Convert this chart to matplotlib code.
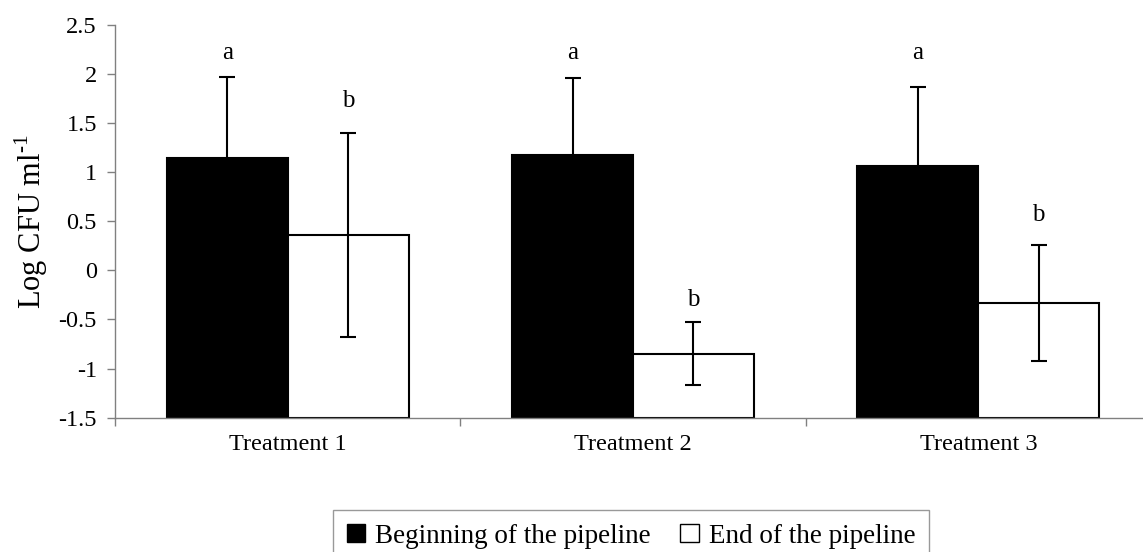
import matplotlib
matplotlib.use("Agg")
import matplotlib.pyplot as plt
import numpy as np
from matplotlib.patches import Patch

categories = ["Treatment 1", "Treatment 2", "Treatment 3"]
series_names = ["Beginning of the pipeline", "End of the pipeline"]
beginning = [1.14, 1.17, 1.06]
beginning_err = [0.83, 0.79, 0.81]
end = [0.36, -0.85, -0.33]
end_err = [1.04, 0.32, 0.59]
beginning_letters = ["a", "a", "a"]
end_letters = ["b", "b", "b"]
beginning_letter_y = [2.21, 2.21, 2.21]
end_letter_y = [1.72, -0.30, 0.56]
yticks = [-1.5, -1, -0.5, 0, 0.5, 1, 1.5, 2, 2.5]
ytick_labels = ["-1.5", "-1", "-0.5", "0", "0.5", "1", "1.5", "2", "2.5"]

plt.rcParams['font.family'] = ['Liberation Serif', 'DejaVu Serif']
plt.rcParams['mathtext.fontset'] = 'custom'
plt.rcParams['mathtext.rm'] = 'Liberation Serif'

fig = plt.figure(figsize=(11.43, 5.52), dpi=100)
ax = fig.add_axes([115/1143, 1 - 417.7/552, 1036/1143, (417.7 - 24.7)/552])

base = -1.5
w = 0.35
centers = np.arange(len(categories)) + 0.5
b_vals = np.array(beginning) - base
e_vals = np.array(end) - base
ax.bar(centers - w, b_vals, width=w, bottom=base, align='edge',
       color='black', edgecolor='black', linewidth=1.5, zorder=2)
ax.bar(centers, e_vals, width=w, bottom=base, align='edge',
       color='white', edgecolor='black', linewidth=1.5, zorder=2)
ax.errorbar(centers - w/2, beginning, yerr=beginning_err, fmt='none',
            ecolor='black', elinewidth=1.5, capsize=5.5, capthick=1.5, zorder=3)
ax.errorbar(centers + w/2, end, yerr=end_err, fmt='none',
            ecolor='black', elinewidth=1.5, capsize=5.5, capthick=1.5, zorder=3)

for c, t, y in zip(centers - w/2, beginning_letters, beginning_letter_y):
    ax.text(c, y, t, ha='center', va='center', fontsize=18)
for c, t, y in zip(centers + w/2, end_letters, end_letter_y):
    ax.text(c, y, t, ha='center', va='center', fontsize=18)

ax.set_xlim(0, 3)
ax.set_ylim(-1.5, 2.5)
ax.set_yticks(yticks)
ax.set_yticklabels(ytick_labels, fontsize=17.5)
ax.set_xticks([0, 1, 2, 3])
ax.set_xticklabels([])
ax.set_xticks(centers, minor=True)
ax.set_xticklabels(categories, minor=True, fontsize=17.5)
ax.tick_params(axis='x', which='minor', length=0, pad=12)
ax.tick_params(axis='x', which='major', direction='out', length=6, color='#808080', width=1)
ax.tick_params(axis='y', direction='out', length=6, color='#808080', width=1, pad=7)

for s in ['top', 'right']:
    ax.spines[s].set_visible(False)
for s in ['left', 'bottom']:
    ax.spines[s].set_color('#808080')
    ax.spines[s].set_linewidth(1)

ax.set_ylabel("Log CFU ml$^{\\mathregular{\u20101}}$", fontsize=22, labelpad=6)

handles = [Patch(facecolor='black', edgecolor='black', label=series_names[0]),
           Patch(facecolor='white', edgecolor='black', label=series_names[1])]
leg = fig.legend(handles=handles, loc='upper center', bbox_to_anchor=(631/1143, 1 - 510/552),
                 ncol=2, fontsize=19.5, frameon=True, fancybox=False, edgecolor='#808080',
                 handlelength=0.67, handleheight=0.67, handletextpad=0.37, columnspacing=1.1,
                 borderpad=0.5, borderaxespad=0)
leg.get_frame().set_linewidth(1)

fig.savefig("out.png", dpi=100)
